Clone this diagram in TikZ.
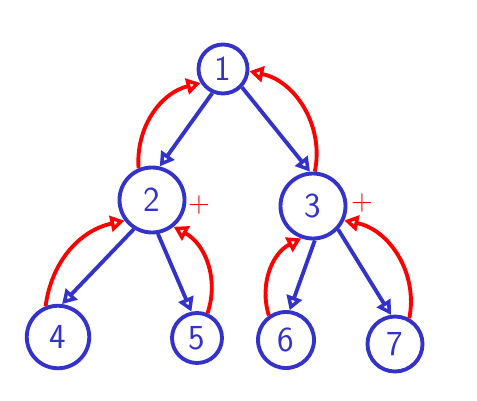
\documentclass[tikz,border=0pt]{standalone}
\usetikzlibrary{arrows.meta}
\definecolor{PenBlue}{rgb}{0.2,0.2,0.8}
\definecolor{PenRed}{rgb}{1,0,0}

\begin{document}
\begin{tikzpicture}[
  vertex/.style={circle,draw=PenBlue,line width=2.2pt,text=PenBlue,inner sep=0pt,
    font=\fontsize{20}{24}\selectfont\sffamily},
  down/.style={draw=PenBlue,line width=2.2pt,-{Triangle[open,length=8pt,width=9pt]}},
  up/.style={draw=PenRed,line width=2.2pt,-{Triangle[open,length=8pt,width=9pt]}},
  plus/.style={text=PenRed,font=\fontsize{17}{18}\selectfont\sffamily}]
\useasboundingbox (0,0) rectangle (9.54,-8);

\node[vertex,minimum width=0.98cm,minimum height=0.86cm] (A) at (4.46,-1.38) {1};
\node[vertex,minimum size=1.3cm] (B) at (3.04,-4.0) {2};
\node[vertex,minimum size=1.3cm] (C) at (6.26,-4.12) {3};
\node[vertex,minimum size=1.25cm] (D) at (1.16,-6.74) {4};
\node[vertex,minimum size=1.0cm] (E) at (3.94,-6.76) {5};
\node[vertex,minimum size=1.12cm] (F) at (5.72,-6.8) {6};
\node[vertex,minimum size=1.1cm] (G) at (7.9,-6.88) {7};

\node[plus] (pB) at (3.98,-4.1) {+};
\node[plus] (pC) at (7.24,-4.06) {+};

\draw[down] (A.-114) -- (B.77);
\draw[down] (A.-44) -- (C.95);
\draw[down] (B.-122) -- (D.83);
\draw[down] (B.-80) -- (E.102);
\draw[down] (C.-87) -- (F.83);
\draw[down] (C.-43) -- (G.98);

\draw[up] (D.112) to[bend left=35] (B.217);
\draw[up] (E.67) to[bend right=40] (B.309);
\draw[up] (F.125) to[bend left=40] (C.250);
\draw[up] (G.61) to[bend right=45] (C.-25);
\draw[up] (B.113) to[bend left=40] (A.212);
\draw[up] (C.87) to[bend right=45] (A.-5);

\end{tikzpicture}
\end{document}
